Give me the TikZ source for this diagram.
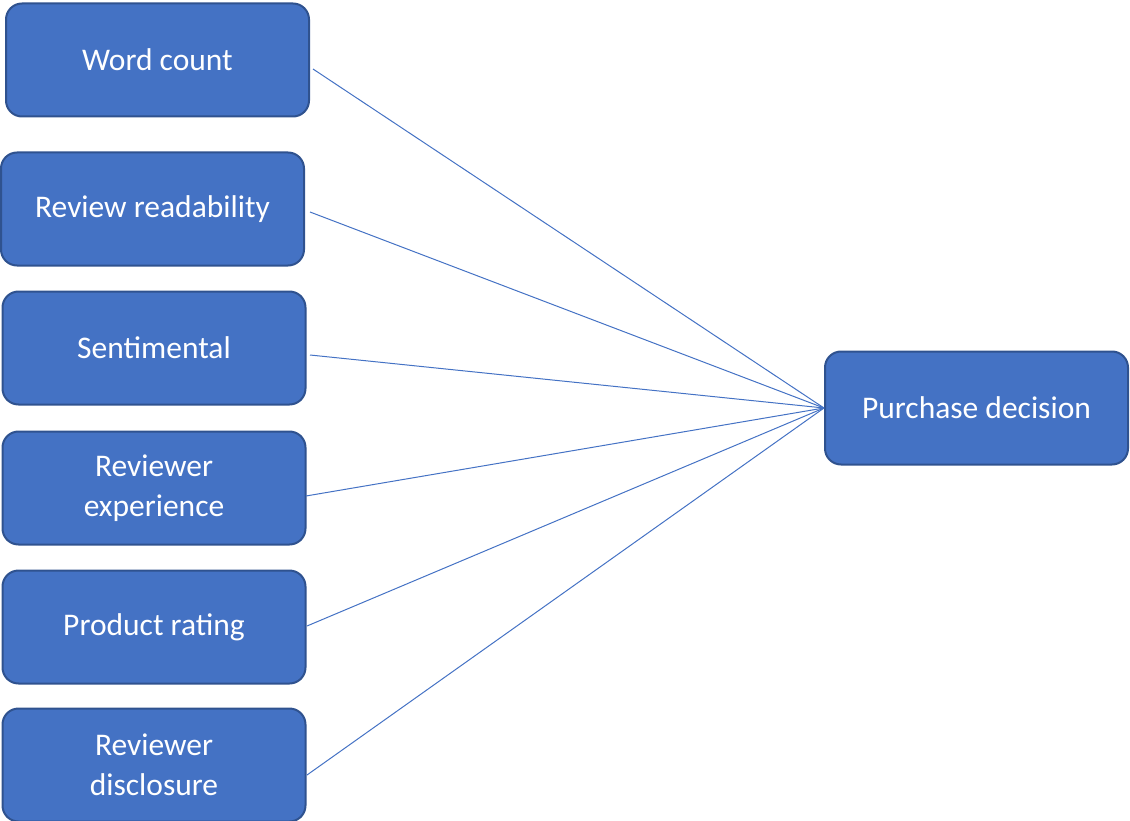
\documentclass[tikz,border=0pt]{standalone}
\usepackage{fontspec}
\setmainfont{Carlito}
\definecolor{boxfill}{HTML}{4472C4}
\definecolor{boxline}{HTML}{2F528F}
\begin{document}
\begin{tikzpicture}[x=1pt,y=-1pt,
  box/.style={draw=boxline, line width=2pt, fill=boxfill, rounded corners=16pt,
    minimum width=303pt, minimum height=113pt, text=white, align=center,
    font=\fontsize{31.5}{40}\selectfont, inner sep=0pt},
  link/.style={draw=boxfill, line width=1pt}]
\useasboundingbox (0,0) rectangle (1130,821);
\node[box] (wc) at (157.5,60) {\raisebox{-2pt}{Word count}};
\node[box] (rr) at (152.5,209) {\raisebox{-2pt}{Review readability}};
\node[box] (se) at (154,348) {\raisebox{-2pt}{Sentimental}};
\node[box] (re) at (154,488) {Reviewer\\experience};
\node[box] (pr) at (154,627) {\raisebox{-2pt}{Product rating}};
\node[box] (rd) at (154,765) {Reviewer\\disclosure};
\node[box] (pd) at (976.5,408) {\raisebox{-2pt}{Purchase decision}};
\coordinate (c1) at (313,69);
\coordinate (c2) at (310,212);
\coordinate (c3) at (310,355);
\coordinate (c4) at (306,496);
\coordinate (c5) at (307,626);
\coordinate (c6) at (307,775);
\foreach \c in {c1,c2,c3,c4,c5,c6}
  \draw[link] (\c) -- (pd.west);
\end{tikzpicture}
\end{document}
